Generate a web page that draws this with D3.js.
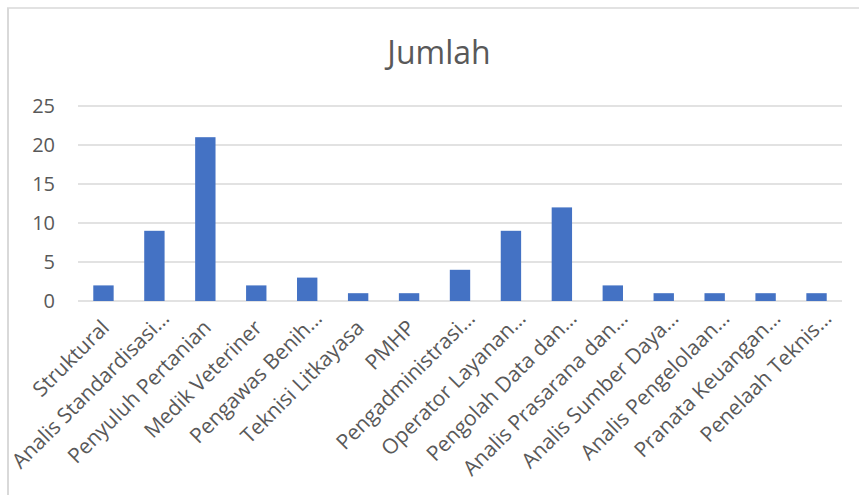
<!DOCTYPE html>
<html>
<head>
<meta charset="utf-8">
<script src="https://cdn.jsdelivr.net/npm/d3@7"></script>
<style>
  body { margin: 0; background: #fff; }
  text { font-family: "Open Sans", "Noto Sans", sans-serif; fill: #595959; }
</style>
</head>
<body>
<div id="chart"></div>
<script>
var categories = ["Struktural", "Analis Standardisasi…", "Penyuluh Pertanian", "Medik Veteriner",
  "Pengawas Benih…", "Teknisi Litkayasa", "PMHP", "Pengadministrasi…", "Operator Layanan…",
  "Pengolah Data dan…", "Analis Prasarana dan…", "Analis Sumber Daya…", "Analis Pengelolaan…",
  "Pranata Keuangan…", "Penelaah Teknis…"];
var values = [2, 9, 21, 2, 3, 1, 1, 4, 9, 12, 2, 1, 1, 1, 1];
var yTicks = [0, 5, 10, 15, 20, 25];
var title = "Jumlah";

var width = 859, height = 495;
var plotLeft = 78, plotRight = 842, plotTop = 106, plotBottom = 301;

var svg = d3.select('#chart').append('svg')
  .attr('width', width)
  .attr('height', height);

// chart frame (only top and left edges show in the crop)
svg.append('line')
  .attr('x1', 7).attr('x2', width).attr('y1', 8).attr('y2', 8)
  .attr('stroke', '#d9d9d9').attr('stroke-width', 1.5);
svg.append('line')
  .attr('x1', 8).attr('x2', 8).attr('y1', 8).attr('y2', height)
  .attr('stroke', '#d9d9d9').attr('stroke-width', 2);

var x = d3.scaleBand()
  .domain(categories)
  .range([plotLeft, plotRight])
  .paddingInner(0.6)
  .paddingOuter(0.3);

var y = d3.scaleLinear()
  .domain([0, 25])
  .range([plotBottom, plotTop]);

// gridlines
svg.append('g')
  .selectAll('line')
  .data(yTicks)
  .enter().append('line')
  .attr('x1', plotLeft).attr('x2', plotRight)
  .attr('y1', function(d){ return y(d); })
  .attr('y2', function(d){ return y(d); })
  .attr('stroke', '#d9d9d9')
  .attr('stroke-width', 1.5);

// y axis labels
var yAxis = svg.append('g')
  .attr('transform', 'translate(' + (plotLeft - 23) + ',0)')
  .call(d3.axisLeft(y).tickValues(yTicks).tickSize(0).tickPadding(0));
yAxis.select('.domain').remove();
yAxis.selectAll('text')
  .style('font-size', '20px')
  .attr('fill', '#595959');

// bars
svg.append('g')
  .selectAll('rect')
  .data(values)
  .enter().append('rect')
  .attr('x', function(d, i){ return x(categories[i]); })
  .attr('y', function(d){ return y(d); })
  .attr('width', x.bandwidth())
  .attr('height', function(d){ return y(0) - y(d); })
  .attr('fill', '#4472c4');

// x axis labels, rotated; truncated labels sit a bit further along the baseline
var xAxis = svg.append('g')
  .attr('transform', 'translate(0,' + plotBottom + ')')
  .call(d3.axisBottom(x).tickSize(0).tickPadding(0));
xAxis.select('.domain').remove();
xAxis.selectAll('text')
  .style('font-size', '21px')
  .attr('fill', '#595959')
  .attr('text-anchor', 'end')
  .attr('dy', null)
  .attr('y', 0)
  .attr('dx', function(d){ return d.slice(-1) === '…' ? 13 : 0; })
  .attr('transform', 'translate(7,28) rotate(-45)');

// title
svg.append('text')
  .attr('x', 439)
  .attr('y', 64)
  .attr('text-anchor', 'middle')
  .style('font-size', '32px')
  .text(title);
</script>
</body>
</html>
